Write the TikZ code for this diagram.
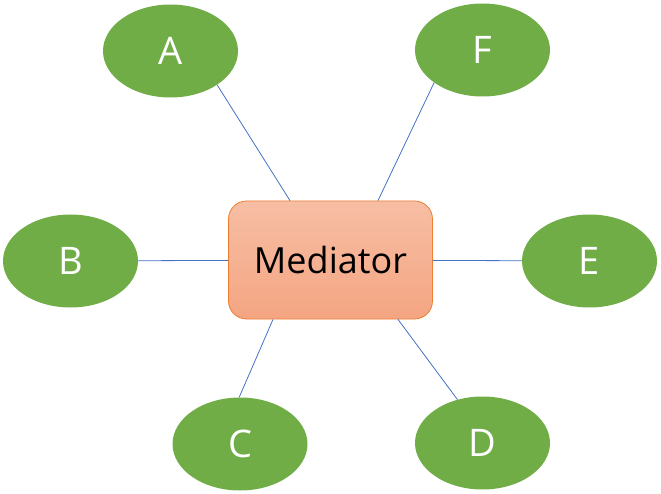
\documentclass[tikz,border=0pt]{standalone}
\usepackage{fontspec}
\setmainfont{Open Sans}
\usetikzlibrary{shapes.geometric}
\definecolor{egreen}{HTML}{70AD47}
\definecolor{lblue}{HTML}{4472C4}
\definecolor{rtop}{HTML}{F7BEA4}
\definecolor{rbot}{HTML}{F4A582}
\definecolor{rbord}{HTML}{ED7D31}
\begin{document}
\begin{tikzpicture}[x=1pt,y=-1pt,
  leaf/.style={ellipse,fill=egreen,minimum width=135pt,minimum height=93pt,inner sep=0pt,text=white,font=\fontsize{38}{42}\selectfont},
  hub/.style={rectangle,rounded corners=18pt,draw=rbord,line width=0.8pt,top color=rtop,bottom color=rbot,minimum width=204pt,minimum height=118pt,inner sep=0pt,font=\fontsize{36}{40}\selectfont},
  link/.style={draw=lblue,line width=0.8pt}]
\useasboundingbox (0,0) rectangle (661,494);
\node[hub] (M) at (330.5,260) {Mediator};
\node[leaf] (A) at (170.5,51) {A};
\node[leaf] (F) at (482.5,50) {F};
\node[leaf] (B) at (70.5,261) {B};
\node[leaf] (E) at (589.5,261) {E};
\node[leaf] (C) at (240,444) {C};
\node[leaf] (D) at (482.5,443) {D};
\draw[link] (A.-36) -- ([xshift=-40.5pt]M.north);
\draw[link] (F.-146) -- ([xshift=47.5pt]M.north);
\draw[link] (B) -- (M);
\draw[link] (E) -- (M);
\draw[link] (C.91) -- ([xshift=-57.5pt]M.south);
\draw[link] (D.120) -- ([xshift=67.5pt]M.south);
\end{tikzpicture}
\end{document}
